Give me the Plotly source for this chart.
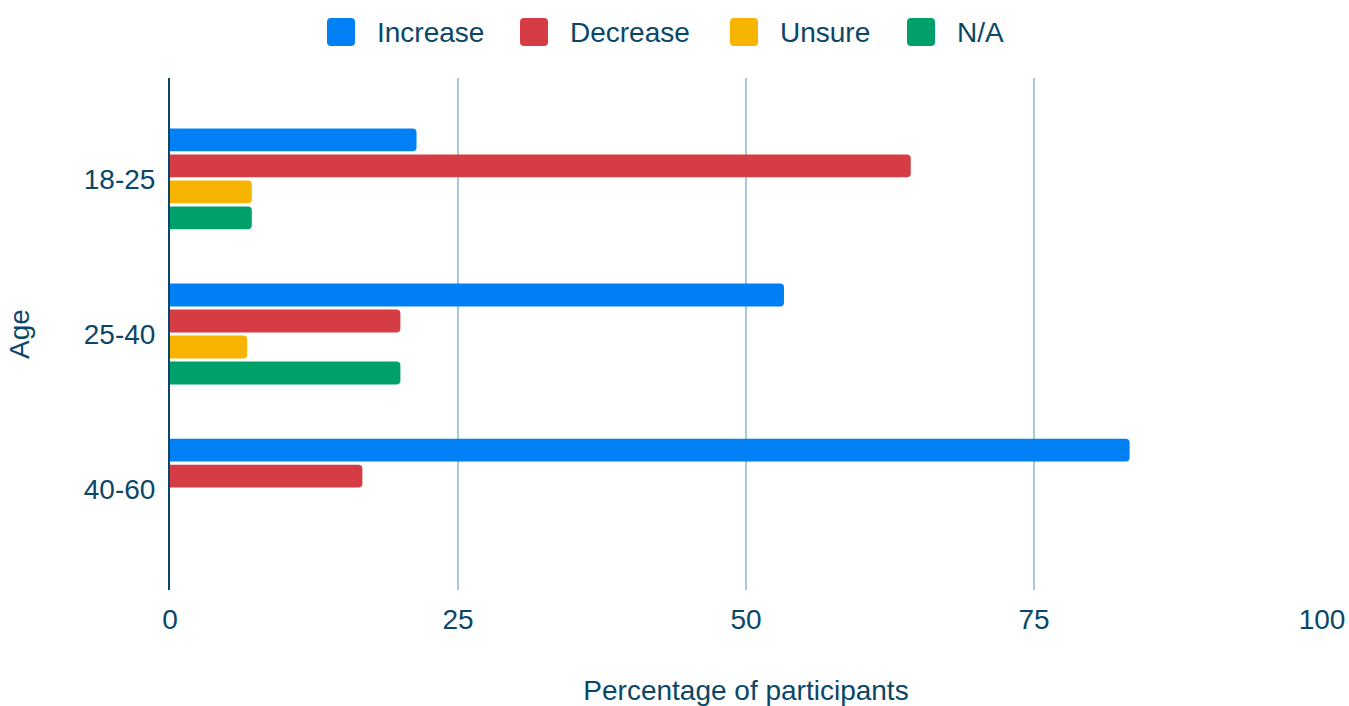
import plotly.graph_objects as go

# Share of participants per age group, by expected change
age_groups = ["18-25", "25-40", "40-60"]
increase = [21.4, 53.3, 83.3]
decrease = [64.3, 20.0, 16.7]
unsure = [7.1, 6.7, 0.0]
not_applicable = [7.1, 20.0, 0.0]

series_names = ["Increase", "Decrease", "Unsure", "N/A"]
series_values = [increase, decrease, unsure, not_applicable]
series_colors = ["#0180f5", "#d63c44", "#f6b400", "#00a06a"]

text_color = "#0a4767"
font_family = "Liberation Sans, Arial, sans-serif"
fsize = 28

W, H = 1349, 706
M_L, M_R, M_T, M_B = 170, 27, 78, 116
plot_w = W - M_L - M_R
plot_h = H - M_T - M_B

fig = go.Figure()
for name, values, color in zip(series_names, series_values, series_colors):
    fig.add_trace(go.Bar(
        y=age_groups,
        x=values,
        name=name,
        orientation="h",
        marker=dict(color=color, line=dict(width=0)),
        showlegend=False,
    ))


def px_x(px):
    return (px - M_L) / plot_w


def px_y(py):
    return (H - M_B - py) / plot_h


def rounded_square(x0, y0, size, r):
    """SVG path (paper coords) for a rounded square given pixel position."""
    ax0, ax1 = px_x(x0), px_x(x0 + size)
    ay0, ay1 = px_y(y0 + size), px_y(y0)
    rx, ry = r / plot_w, r / plot_h
    return (
        f"M {ax0 + rx},{ay0} L {ax1 - rx},{ay0} Q {ax1},{ay0} {ax1},{ay0 + ry} "
        f"L {ax1},{ay1 - ry} Q {ax1},{ay1} {ax1 - rx},{ay1} "
        f"L {ax0 + rx},{ay1} Q {ax0},{ay1} {ax0},{ay1 - ry} "
        f"L {ax0},{ay0 + ry} Q {ax0},{ay0} {ax0 + rx},{ay0} Z"
    )


# Top legend: swatch + label for each series
legend_left_px = [327, 520, 730, 907]
swatch, swatch_top, label_gap = 28, 18, 20
for name, color, lx in zip(series_names, series_colors, legend_left_px):
    fig.add_shape(
        type="path", xref="paper", yref="paper",
        path=rounded_square(lx, swatch_top, swatch, 4),
        fillcolor=color, line=dict(width=0),
    )
    fig.add_annotation(
        x=px_x(lx + swatch + label_gap), y=px_y(swatch_top + swatch / 2),
        xref="paper", yref="paper", xanchor="left", yanchor="middle",
        text=name, showarrow=False,
        font=dict(size=fsize, color=text_color, family=font_family),
    )

fig.update_layout(
    width=W,
    height=H,
    paper_bgcolor="white",
    plot_bgcolor="white",
    barmode="group",
    bargap=0.33,
    bargroupgap=0.12,
    barcornerradius=4,
    margin=dict(l=M_L, r=M_R, t=M_T, b=M_B),
    font=dict(family=font_family, size=fsize, color=text_color),
    showlegend=False,
    xaxis=dict(
        range=[0, 100],
        tickvals=[0, 25, 50, 75, 100],
        showgrid=True,
        gridcolor="#a9c9d8",
        gridwidth=2,
        zeroline=False,
        showline=False,
        ticks="outside",
        ticklen=4,
        tickcolor="white",
        tickfont=dict(size=fsize, color=text_color),
        title=dict(text="Percentage of participants", standoff=50,
                   font=dict(size=fsize, color=text_color)),
        automargin=False,
        fixedrange=True,
    ),
    yaxis=dict(
        autorange=False,
        range=[2.65, -0.65],
        showgrid=False,
        showline=True,
        linecolor=text_color,
        linewidth=2,
        ticks="outside",
        ticklen=7,
        tickcolor="white",
        tickfont=dict(size=fsize, color=text_color),
        title=dict(text="Age", standoff=46, font=dict(size=fsize, color=text_color)),
        automargin=False,
        fixedrange=True,
    ),
)

fig.write_html("out.html")
